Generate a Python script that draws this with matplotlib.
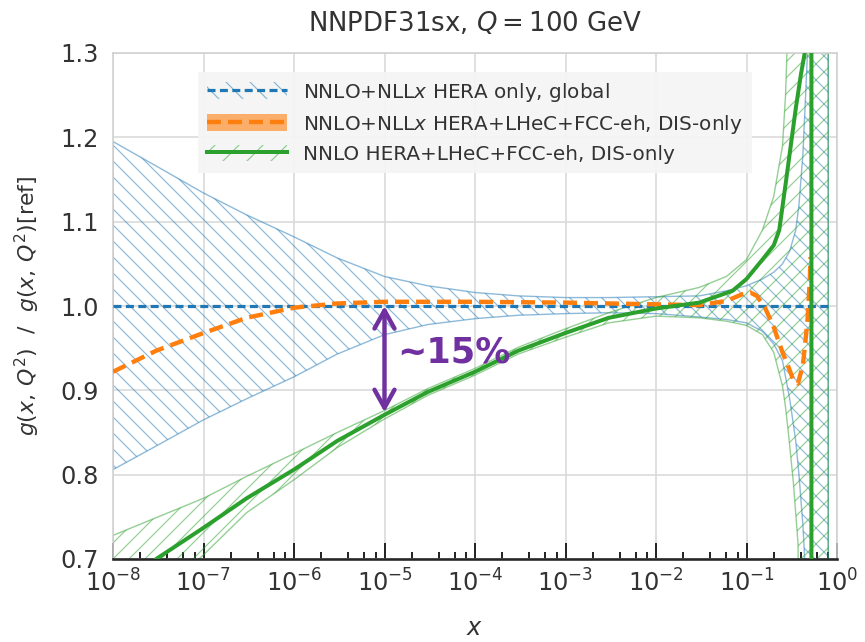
import matplotlib
matplotlib.use('Agg')
import matplotlib.pyplot as plt
from matplotlib.patches import Patch
from matplotlib.lines import Line2D
from matplotlib.colors import to_rgba
from matplotlib.ticker import LogLocator, NullFormatter

plt.rcParams['font.family'] = ['DejaVu Sans']
plt.rcParams['mathtext.fontset'] = 'dejavusans'
plt.rcParams['hatch.linewidth'] = 0.6
plt.rcParams['lines.scale_dashes'] = False

# HERA only, global (NNLO+NLLx) -- reference, band
x_blue = [1e-8, 3e-8, 1e-7, 3e-7, 1e-6, 3e-6, 1e-5, 3e-5, 1e-4, 3e-4, 1e-3, 3e-3,
          1e-2, 3e-2, 6e-2, 0.1, 0.15, 0.2, 0.25, 0.3, 0.35, 0.38, 0.42, 0.45, 0.48, 0.8]
blue_hi = [1.195, 1.166, 1.134, 1.108, 1.082, 1.057, 1.035, 1.024, 1.016, 1.012, 1.010, 1.010,
           1.011, 1.012, 1.018, 1.024, 1.032, 1.040, 1.050, 1.065, 1.090, 1.120, 1.180, 1.250, 1.320, 1.500]
blue_lo = [0.806, 0.834, 0.865, 0.890, 0.916, 0.943, 0.966, 0.978, 0.985, 0.989, 0.991, 0.992,
           0.991, 0.987, 0.984, 0.980, 0.970, 0.955, 0.935, 0.890, 0.840, 0.800, 0.740, 0.680, 0.600, 0.500]
x_blue_cv = [1e-8, 0.8]
blue_cv = [1.0, 1.0]

# NNLO+NLLx HERA+LHeC+FCC-eh, DIS-only -- central value
x_orange = [1e-8, 3e-8, 1e-7, 3e-7, 1e-6, 3e-6, 1e-5, 1e-4, 1e-3, 1e-2, 3e-2, 6e-2,
            0.09, 0.11, 0.13, 0.16, 0.2, 0.22, 0.25, 0.29, 0.33, 0.37, 0.42, 0.47, 0.5, 0.51]
orange_cv = [0.922, 0.947, 0.968, 0.986, 0.998, 1.003, 1.005, 1.005, 1.004, 1.002, 1.001, 1.006,
             1.014, 1.016, 1.012, 0.998, 0.975, 0.962, 0.945, 0.928, 0.912, 0.908, 0.930, 0.980, 1.030, 1.058]

# NNLO HERA+LHeC+FCC-eh, DIS-only
x_green = [1e-8, 3e-8, 1e-7, 3e-7, 1e-6, 3e-6, 1e-5, 3e-5, 1e-4, 3e-4, 1e-3, 3e-3,
           1e-2, 3e-2, 6e-2, 0.1, 0.15, 0.2, 0.25, 0.27, 0.29, 0.33, 0.37, 0.39, 0.8]
green_hi = [0.728, 0.749, 0.772, 0.798, 0.825, 0.850, 0.876, 0.902, 0.926, 0.951, 0.973, 0.992,
            1.010, 1.022, 1.035, 1.055, 1.090, 1.130, 1.190, 1.250, 1.350, 1.500, 1.500, 1.500, 1.500]
green_lo = [0.600, 0.655, 0.705, 0.755, 0.794, 0.832, 0.866, 0.894, 0.918, 0.943, 0.963, 0.980,
            0.988, 0.986, 0.982, 0.977, 0.966, 0.945, 0.905, 0.880, 0.850, 0.790, 0.720, 0.600, 0.500]
x_green_cv = [1e-8, 3e-8, 1e-7, 3e-7, 1e-6, 3e-6, 1e-5, 3e-5, 1e-4, 3e-4, 1e-3, 3e-3,
              1e-2, 3e-2, 7e-2, 0.1, 0.15, 0.2, 0.23, 0.27, 0.35, 0.4, 0.44, 0.48, 0.518, 0.526, 0.6, 0.8]
green_cv = [0.645, 0.700, 0.737, 0.772, 0.806, 0.840, 0.871, 0.898, 0.922, 0.947, 0.968, 0.986,
            0.997, 1.004, 1.018, 1.032, 1.055, 1.072, 1.090, 1.144, 1.234, 1.275, 1.300, 1.400, 20.0, -20.0, 0.0, 0.0]

BLUE, ORANGE, GREEN, PURPLE = '#1f77b4', '#ff7f0e', '#2ca02c', '#7030a0'
TXT = '#333333'
blue_a = to_rgba(BLUE, 0.5)
green_a = to_rgba(GREEN, 0.5)

fig = plt.figure(figsize=(865 / 144, 642 / 144), dpi=144)
ax = fig.add_axes([113 / 865, 1 - 559 / 642, 724 / 865, 506 / 642])

ax.fill_between(x_blue, blue_lo, blue_hi, facecolor='none', edgecolor=blue_a,
                hatch='\\\\\\', linewidth=0.7, zorder=2)
ax.fill_between(x_green, green_lo, green_hi, facecolor='none', edgecolor=green_a,
                hatch='///', linewidth=0.7, zorder=2)

ax.plot(x_blue_cv, blue_cv, color=BLUE, lw=1.6, ls=(0, (4, 2.2)), zorder=3)
ax.plot(x_orange, orange_cv, color=ORANGE, lw=2.2, ls=(0, (7, 3.5)), zorder=4)
ax.plot(x_green_cv, green_cv, color=GREEN, lw=2.0, zorder=5)

# ~15% arrow
ax.annotate('', xy=(1e-5, 0.874), xytext=(1e-5, 1.0),
            arrowprops=dict(arrowstyle='<->,head_length=0.45,head_width=0.25',
                            color=PURPLE, lw=2.2, mutation_scale=20,
                            shrinkA=0, shrinkB=0), zorder=6)
ax.text(1.4e-5, 0.945, '~15%', color=PURPLE, fontsize=17.5, fontweight='bold',
        va='center', ha='left', zorder=6)

ax.set_xscale('log')
ax.set_xlim(1e-8, 1)
ax.set_ylim(0.7, 1.3)
ax.set_yticks([0.7, 0.8, 0.9, 1.0, 1.1, 1.2, 1.3])
ax.xaxis.set_major_locator(LogLocator(base=10, numticks=20))
ax.xaxis.set_minor_locator(LogLocator(base=10, subs=(2, 4, 6, 8), numticks=20))
ax.xaxis.set_minor_formatter(NullFormatter())

ax.grid(True, which='major', color='#d9d9d9', lw=0.8, zorder=0)
ax.set_axisbelow(True)
for side in ('left', 'top', 'right'):
    ax.spines[side].set_color('#d0d0d0')
    ax.spines[side].set_linewidth(0.8)
ax.spines['bottom'].set_color('#262626')
ax.spines['bottom'].set_linewidth(1.3)

ax.tick_params(axis='x', which='major', direction='in', length=8, width=1.0,
               color='#262626', labelsize=12, pad=5, labelcolor=TXT)
ax.tick_params(axis='x', which='minor', direction='in', length=3.5, width=1.0,
               color='#262626')
ax.tick_params(axis='y', length=0, labelsize=12, pad=7, labelcolor=TXT)

ax.set_title('NNPDF31sx, $Q = 100$ GeV', fontsize=13, pad=11, color=TXT)
ax.set_xlabel('$x$', fontsize=12, labelpad=10, color=TXT)
ax.set_ylabel(r'$g(x,\,Q^2)\ \ /\ \ g(x,\,Q^2)[\mathrm{ref}]$', fontsize=11,
              labelpad=9, color=TXT)

handles = [
    (Patch(facecolor='none', edgecolor=blue_a, hatch='\\\\', lw=0),
     Line2D([], [], color=BLUE, lw=1.6, ls=(0, (4, 2.2)))),
    (Patch(facecolor=ORANGE, alpha=0.6, lw=0),
     Line2D([], [], color=ORANGE, lw=2.2, ls=(0, (7, 3.5)))),
    (Patch(facecolor='none', edgecolor=green_a, hatch='//', lw=0),
     Line2D([], [], color=GREEN, lw=2.0)),
]
labels = [
    'NNLO+NLL$x$ HERA only, global',
    'NNLO+NLL$x$ HERA+LHeC+FCC-eh, DIS-only',
    'NNLO HERA+LHeC+FCC-eh, DIS-only',
]
leg = ax.legend(handles, labels, loc='upper left', bbox_to_anchor=(0.104, 0.983),
                fontsize=10, frameon=True, fancybox=False, facecolor='#f5f5f5',
                edgecolor='none', framealpha=0.95, handlelength=4.0, handleheight=0.9,
                borderpad=0.45, labelspacing=0.45, handletextpad=0.8)
for t in leg.get_texts():
    t.set_color(TXT)

fig.savefig('out.png', dpi=144)
